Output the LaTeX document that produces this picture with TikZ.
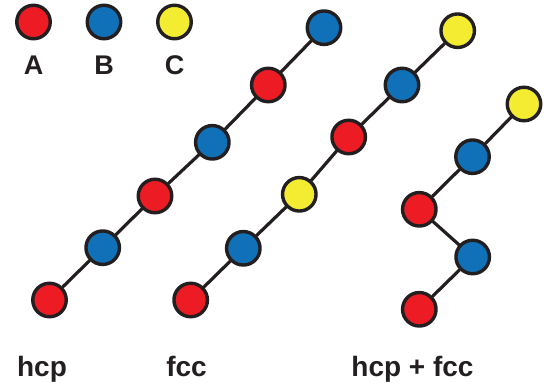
\documentclass[tikz,border=0pt]{standalone}
\usepackage{fontspec}
\setmainfont{Liberation Sans}
\definecolor{atomred}{HTML}{ED1C24}
\definecolor{atomblue}{HTML}{1071B9}
\definecolor{atomyellow}{HTML}{F3EC31}
\definecolor{atomline}{HTML}{231F20}
\tikzset{
  atom/.style={circle,draw=atomline,line width=3.4pt,minimum size=33.5pt,inner sep=0pt},
  atomA/.style={atom,fill=atomred},
  atomB/.style={atom,fill=atomblue},
  atomC/.style={atom,fill=atomyellow},
  bond/.style={draw=atomline,line width=3.2pt},
  lbl/.style={anchor=base,inner sep=0pt,text=atomline,font=\fontsize{27}{30}\selectfont\bfseries}
}

\begin{document}
\begin{tikzpicture}[line cap=round,line join=round,x=1pt,y=1pt]
                \useasboundingbox (0,0) rectangle (550,383);
                % legend
                \node [atomA] (lgA) at (33.5,361) {};
                \node [atomB] (lgB) at (104,361) {};
                \node [atomC] (lgC) at (174.5,361) {};
                \node [lbl] (txA) at (33.5,308) {A};
                \node [lbl] (txB) at (104,308) {B};
                \node [lbl] (txC) at (174.5,308) {C};
                % hcp
                \node [atomA] (h1) at (49.5,83) {};
                \node [atomB] (h2) at (102.7,135.3) {};
                \node [atomA] (h3) at (155,187) {};
                \node [atomB] (h4) at (212.3,240.7) {};
                \node [atomA] (h5) at (268.3,298) {};
                \node [atomB] (h6) at (324,355.3) {};
                \draw [bond] (h1)--(h2) (h2)--(h3) (h3)--(h4) (h4)--(h5) (h5)--(h6);
                % fcc
                \node [atomA] (f1) at (190.7,83) {};
                \node [atomB] (f2) at (243.3,134.7) {};
                \node [atomC] (f3) at (299.3,188.7) {};
                \node [atomA] (f4) at (348.7,246) {};
                \node [atomB] (f5) at (402,298) {};
                \node [atomC] (f6) at (457.7,352.3) {};
                \draw [bond] (f1)--(f2) (f2)--(f3) (f3)--(f4) (f4)--(f5) (f5)--(f6);
                % hcp + fcc
                \node [atomA] (m1) at (419.3,73.7) {};
                \node [atomB] (m2) at (472.7,126) {};
                \node [atomA] (m3) at (419.3,173.7) {};
                \node [atomB] (m4) at (472.5,226.3) {};
                \node [atomC] (m5) at (524,279) {};
                \draw [bond] (m1)--(m2) (m2)--(m3) (m3)--(m4) (m4)--(m5);
                % names
                \node [lbl,font=\fontsize{28}{30}\selectfont\bfseries] (nhcp) at (42,6) {hcp};
                \node [lbl,font=\fontsize{28}{30}\selectfont\bfseries] (nfcc) at (186.5,6) {fcc};
                \node [lbl,font=\fontsize{28}{30}\selectfont\bfseries] (nmix) at (412.5,6) {hcp + fcc};
\end{tikzpicture}
\end{document}
